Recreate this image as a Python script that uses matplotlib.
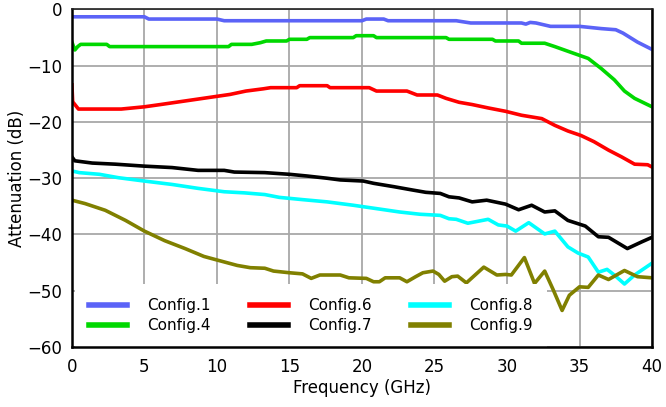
import matplotlib
matplotlib.use("Agg")
import matplotlib.pyplot as plt

# Config.1
x1 = [0, 5, 5.3, 10, 10.5, 20, 20.3, 21.5, 21.8, 26.5, 27.5, 31, 31.3, 31.6, 32, 33, 35, 36.5, 37.5, 38, 39, 40]
y1 = [-1.3, -1.3, -1.7, -1.7, -2.0, -2.0, -1.7, -1.7, -2.0, -2.0, -2.4, -2.4, -2.6, -2.3, -2.4, -3.0, -3.0, -3.4, -3.6, -4.2, -5.8, -7.1]
# Config.4
x4 = [0, 0.2, 0.4, 0.6, 2.4, 2.6, 10.8, 11.0, 12.4, 13.0, 13.4, 14.8, 15.0, 16.2, 16.4, 19.4, 19.6, 20.8, 21.0, 25.8, 26.0, 29.0, 29.2, 30.8, 31.0, 32.6, 33.3, 34.5, 35.6, 36.5, 37.4, 38.1, 38.8, 40.0]
y4 = [-5.8, -7.2, -6.6, -6.2, -6.2, -6.6, -6.6, -6.2, -6.2, -5.9, -5.6, -5.6, -5.3, -5.3, -5.0, -5.0, -4.66, -4.66, -5.0, -5.0, -5.3, -5.3, -5.6, -5.6, -6.0, -6.0, -6.6, -7.7, -8.7, -10.5, -12.5, -14.5, -15.8, -17.3]
# Config.6
x6 = [0, 0.05, 0.45, 3.4, 5.0, 6.1, 7.7, 9.3, 10.9, 12.0, 13.2, 13.7, 15.5, 15.7, 17.6, 17.8, 20.5, 21.0, 23.1, 23.8, 25.2, 25.8, 26.7, 27.6, 28.7, 29.9, 31.0, 32.4, 33.3, 34.2, 35.1, 36.0, 37.0, 37.9, 38.8, 39.7, 40.0]
y6 = [-13.4, -16.4, -17.7, -17.7, -17.3, -16.9, -16.3, -15.7, -15.1, -14.5, -14.1, -13.9, -13.9, -13.55, -13.55, -13.9, -13.9, -14.5, -14.5, -15.2, -15.2, -15.8, -16.5, -16.9, -17.5, -18.1, -18.8, -19.4, -20.6, -21.6, -22.4, -23.5, -25.0, -26.2, -27.5, -27.6, -28.0]
# Config.7
x7 = [0, 0.2, 1.4, 3.0, 5.0, 6.9, 8.7, 10.5, 11.2, 13.3, 15.0, 16.2, 17.6, 18.5, 20.1, 20.8, 22.2, 23.5, 24.4, 25.4, 26.0, 26.7, 27.6, 28.6, 29.9, 30.8, 31.7, 32.6, 33.3, 34.2, 35.4, 36.3, 37.0, 38.3, 39.3, 40.0]
y7 = [-26.2, -26.9, -27.3, -27.5, -27.85, -28.1, -28.6, -28.6, -28.9, -29.0, -29.3, -29.6, -30.0, -30.3, -30.5, -30.9, -31.5, -32.1, -32.5, -32.7, -33.3, -33.5, -34.2, -33.9, -34.6, -35.6, -34.8, -36.0, -35.8, -37.5, -38.5, -40.4, -40.5, -42.5, -41.3, -40.5]
# Config.8
x8 = [0, 0.5, 1.9, 3.2, 5.0, 6.9, 8.7, 10.5, 11.9, 13.3, 14.3, 15.9, 17.6, 19.4, 21.0, 22.6, 24.0, 25.4, 26.0, 26.5, 27.3, 28.7, 29.4, 30.0, 30.6, 31.5, 32.6, 33.3, 34.2, 34.9, 35.6, 36.3, 36.9, 37.4, 38.1, 38.8, 40.0]
y8 = [-28.7, -29.0, -29.3, -29.9, -30.5, -31.1, -31.8, -32.4, -32.6, -32.9, -33.4, -33.8, -34.2, -34.8, -35.4, -36.0, -36.4, -36.6, -37.2, -37.3, -38.0, -37.3, -38.3, -38.5, -39.4, -37.9, -39.9, -39.4, -42.2, -43.3, -44.0, -46.7, -46.2, -47.2, -48.8, -47.2, -45.1]
# Config.9
x9 = [0, 0.9, 2.3, 3.7, 5.0, 6.4, 7.8, 9.1, 10.1, 11.4, 12.3, 13.3, 13.9, 15.0, 15.9, 16.5, 17.1, 18.5, 19.1, 20.3, 20.8, 21.2, 21.6, 22.6, 23.1, 23.7, 24.2, 24.9, 25.3, 25.7, 26.2, 26.6, 27.2, 28.4, 29.3, 29.9, 30.3, 31.2, 31.9, 32.6, 33.2, 33.8, 34.3, 35.0, 35.6, 36.3, 37.0, 38.1, 39.0, 40.0]
y9 = [-33.9, -34.5, -35.7, -37.5, -39.4, -41.1, -42.5, -43.9, -44.6, -45.5, -45.9, -46.0, -46.5, -46.8, -47.0, -47.8, -47.2, -47.2, -47.7, -47.8, -48.4, -48.4, -47.7, -47.7, -48.4, -47.5, -46.8, -46.5, -47.1, -48.3, -47.5, -47.4, -48.6, -45.8, -47.2, -47.1, -47.2, -44.1, -48.7, -46.5, -49.9, -53.5, -50.8, -49.3, -49.4, -47.2, -48.0, -46.4, -47.5, -47.7]

labels = ["Config.1", "Config.4", "Config.6", "Config.7", "Config.8", "Config.9"]
colors = ["#5b63f7", "#00d800", "#ff0000", "#000000", "#00ffff", "#808000"]
xticks = [0, 5, 10, 15, 20, 25, 30, 35, 40]
yticks = [0, -10, -20, -30, -40, -50, -60]

plt.rcParams['font.family'] = ['DejaVu Sans']
fig = plt.figure(figsize=(6.66, 4.07), dpi=100)
ax = fig.add_axes([0.108, 0.1474, 0.871, 0.8293])

series = [(x1, y1), (x4, y4), (x6, y6), (x7, y7), (x8, y8), (x9, y9)]
for (xs, ys), lab, c in zip(series, labels, colors):
    ax.plot(xs, ys, color=c, lw=2.6, label=lab, solid_joinstyle='round')

ax.set_xlim(0, 40)
ax.set_ylim(-60, 0)
ax.set_xticks(xticks)
ax.set_yticks(yticks)
ax.grid(True, color='#a8a8a8', lw=1.3)
ax.set_axisbelow(True)
ax.tick_params(length=0, labelsize=12)
ax.tick_params(axis='x', pad=8)
ax.tick_params(axis='y', pad=7)
for s in ['left', 'bottom', 'right']:
    ax.spines[s].set_color('black')
    ax.spines[s].set_linewidth(1.8)
ax.spines['top'].set_color('#202020')
ax.spines['top'].set_linewidth(1.2)
for s in ax.spines.values():
    s.set_zorder(6)
ax.set_xlabel("Frequency (GHz)", fontsize=12, labelpad=2)
ax.set_ylabel("Attenuation (dB)", fontsize=12, labelpad=1)

leg = ax.legend(ncol=3, loc='lower left', bbox_to_anchor=(0.005, 0.0), borderaxespad=0,
                fontsize=11, frameon=True, fancybox=False, framealpha=1,
                edgecolor='none', facecolor='white', handlelength=2.5,
                handletextpad=1.3, columnspacing=2.6, labelspacing=0.35,
                borderpad=0.9)
for h in leg.get_lines():
    h.set_linewidth(4)

fig.savefig("out.png", dpi=100)
